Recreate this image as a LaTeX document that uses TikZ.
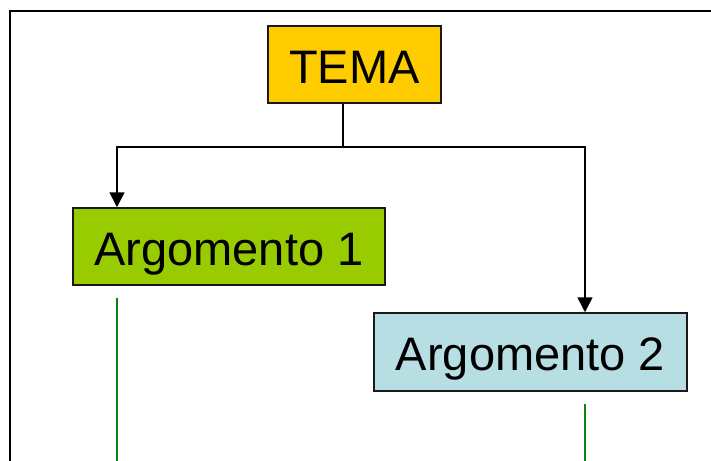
\documentclass[tikz,border=0pt]{standalone}
\usepackage{fontspec}
\setmainfont{Liberation Sans}
\usetikzlibrary{arrows.meta}
\definecolor{temafill}{HTML}{FFCC00}
\definecolor{argAfill}{HTML}{99CC00}
\definecolor{argBfill}{HTML}{B7DEE3}
\definecolor{greenline}{HTML}{108010}
\tikzset{
  boxnode/.style={draw=black!90, line width=1.5pt, rectangle, inner sep=0pt, text height=37.5pt, text depth=0pt, font=\fontsize{47}{50}\selectfont, text=black},
  conn/.style={draw=black, line width=1.6pt},
  arrowconn/.style={conn, -{Triangle[width=15pt,length=15pt]}},
  greenconn/.style={draw=greenline, line width=2pt},
  framestyle/.style={draw=black, line width=2.2pt}
}
\begin{document}
\begin{tikzpicture}[x=1pt,y=-1pt]
\useasboundingbox (0,0) rectangle (711,460);
\draw[framestyle] (10,470) -- (10,11) -- (720,11);
\node[boxnode, fill=temafill, minimum width=173pt, minimum height=77pt] (tema) at (354.5,64.5) {TEMA};
\node[boxnode, fill=argAfill, minimum width=312pt, minimum height=77pt] (a1) at (229,246.5) {Argomento 1};
\node[boxnode, fill=argBfill, minimum width=313pt, minimum height=78pt] (a2) at (530.5,352) {Argomento 2};
\coordinate (j) at (343,147);
\coordinate (x1) at (117,0);
\coordinate (x2) at (585,0);
\draw[conn] (j |- tema.south) -- (j);
\draw[arrowconn] (j) -| (a1.north -| x1);
\draw[arrowconn] (j) -| (a2.north -| x2);
\coordinate (g1s) at (117,298);
\coordinate (g1e) at (117,462);
\coordinate (g2s) at (585,404);
\coordinate (g2e) at (585,462);
\draw[greenconn] (g1s) -- (g1e);
\draw[greenconn] (g2s) -- (g2e);
\end{tikzpicture}
\end{document}
